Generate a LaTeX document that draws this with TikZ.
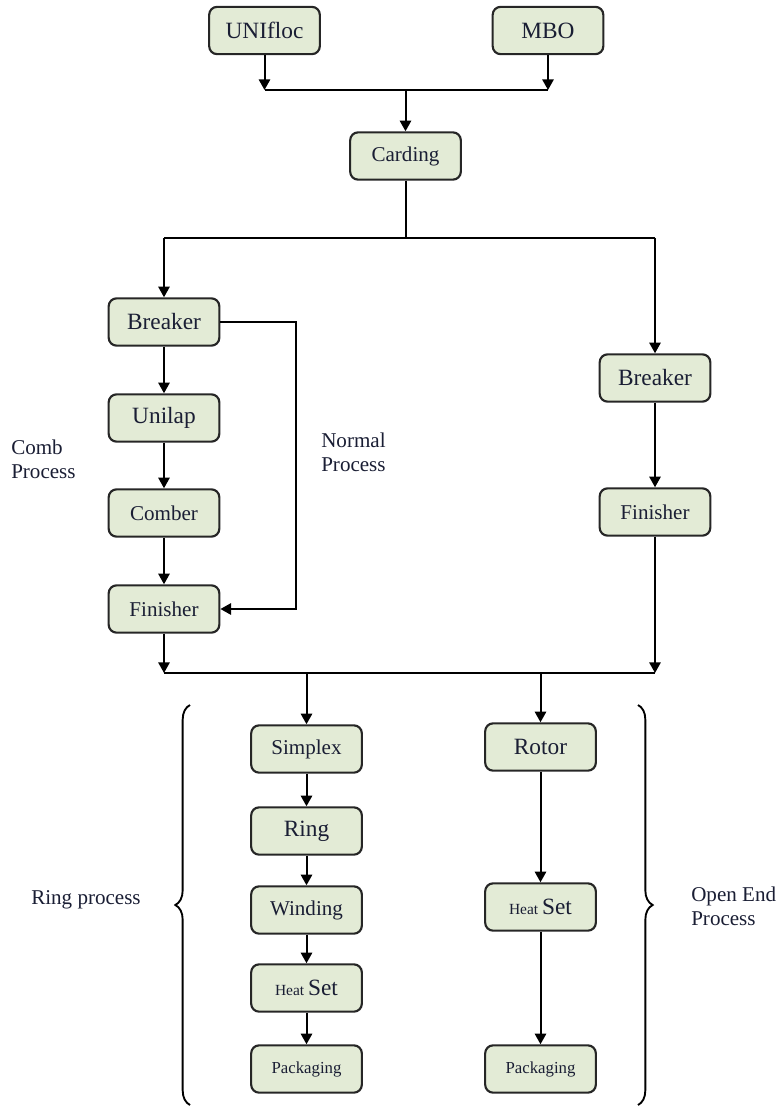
\documentclass[tikz,border=0pt]{standalone}
\usepackage{fontspec}
\setmainfont{LiberationSerif}[Extension=.ttf, UprightFont=*-Regular, BoldFont=*-Bold, ItalicFont=*-Italic]
\usetikzlibrary{arrows.meta,decorations.pathreplacing}
\definecolor{boxfill}{RGB}{227,235,214}
\definecolor{ink}{RGB}{26,30,52}
\newcommand{\bigtxt}{\fontsize{17.5}{20}\selectfont}
\newcommand{\midtxt}{\fontsize{15.8}{18}\selectfont}
\newcommand{\smalltxt}{\fontsize{12.6}{15}\selectfont}
\newcommand{\heattxt}{\fontsize{11.6}{14}\selectfont}
\begin{document}
\begin{tikzpicture}[x=0.75pt,y=-0.75pt,
  stage/.style={draw=black!85, line width=1.6pt, fill=boxfill, rounded corners=6pt,
    minimum width=83pt, minimum height=35.5pt, inner sep=0pt, text=ink},
  link/.style={line width=1.5pt, draw=black},
  arr/.style={link, -{Triangle[length=8pt,width=8.5pt]}},
  note/.style={anchor=west, align=left, text=ink, font=\midtxt, inner sep=0pt},
  curly/.style={line width=1.4pt, decorate, decoration={brace, amplitude=11pt}}]
\useasboundingbox (0,0) rectangle (780,1109);

% raw material feeds and carding
\node[stage, font=\bigtxt] (uni)  at (264.5,30.5) {UNIfloc};
\node[stage, font=\bigtxt] (mbo)  at (548,30.5)   {MBO};
\node[stage, font=\midtxt] (card) at (405.5,156)  {Carding};

% combed route (left) and normal route (right)
\node[stage, font=\bigtxt] (brL)  at (164,322) {Breaker};
\node[stage, font=\bigtxt] (unl)  at (164,418) {Unilap};
\node[stage, font=\midtxt] (comb) at (164,513) {Comber};
\node[stage, font=\midtxt] (finL) at (164,609) {Finisher};
\node[stage, font=\bigtxt] (brR)  at (655,378) {Breaker};
\node[stage, font=\midtxt] (finR) at (655,512) {Finisher};

% ring spinning chain
\node[stage, font=\midtxt]   (simp) at (306.5,749)  {Simplex};
\node[stage, font=\bigtxt]   (ring) at (306.5,831)  {Ring};
\node[stage, font=\midtxt]   (wind) at (306.5,910)  {Winding};
\node[stage]                 (hsL)  at (306.5,988)  {\heattxt Heat \bigtxt Set};
\node[stage, font=\smalltxt] (pkL)  at (306.5,1069) {Packaging};

% open end chain
\node[stage, font=\bigtxt]   (rot)  at (540.5,747)  {Rotor};
\node[stage]                 (hsR)  at (540.5,907)  {\heattxt Heat \bigtxt Set};
\node[stage, font=\smalltxt] (pkR)  at (540.5,1069) {Packaging};

% junction points
\coordinate (jA) at (405.5,90);
\coordinate (jB) at (405.5,238);
\coordinate (jC) at (410,673);
\coordinate (np) at (296,322);

% feeds into carding
\draw[arr] (uni) -- (uni |- jA);
\draw[arr] (mbo) -- (mbo |- jA);
\draw[link] (uni |- jA) -- (mbo |- jA);
\draw[arr] (jA) -- (card);

% split after carding
\draw[link] (card) -- (jB);
\draw[link] (brL |- jB) -- (brR |- jB);
\draw[arr] (brL |- jB) -- (brL);
\draw[arr] (brR |- jB) -- (brR);

% drawing stages
\draw[arr] (brL) -- (unl);
\draw[arr] (unl) -- (comb);
\draw[arr] (comb) -- (finL);
\draw[arr] (brL.east) -- (np) |- (finL.east);
\draw[arr] (brR) -- (finR);

% merge into spinning
\draw[arr] (finL) -- (finL |- jC);
\draw[arr] (finR) -- (finR |- jC);
\draw[link] (finL |- jC) -- (finR |- jC);
\draw[arr] (simp |- jC) -- (simp);
\draw[arr] (rot |- jC) -- (rot);

% spinning chains
\draw[arr] (simp) -- (ring);
\draw[arr] (ring) -- (wind);
\draw[arr] (wind) -- (hsL);
\draw[arr] (hsL) -- (pkL);
\draw[arr] (rot) -- (hsR);
\draw[arr] (hsR) -- (pkR);

% grouping braces
\coordinate (bLt) at (190,705);
\coordinate (bLb) at (190,1105);
\coordinate (bRt) at (638,705);
\coordinate (bRb) at (638,1105);
\draw[curly] (bLb) -- (bLt);
\draw[curly] (bRt) -- (bRb);

% labels
\node[note] (lcomb) at (11,459) {Comb\\Process};
\node[note] (lnorm) at (321,452) {Normal\\Process};
\node[note] (lring) at (31,900) {Ring process};
\node[note] (lopen) at (691,906) {Open End\\Process};
\end{tikzpicture}
\end{document}
